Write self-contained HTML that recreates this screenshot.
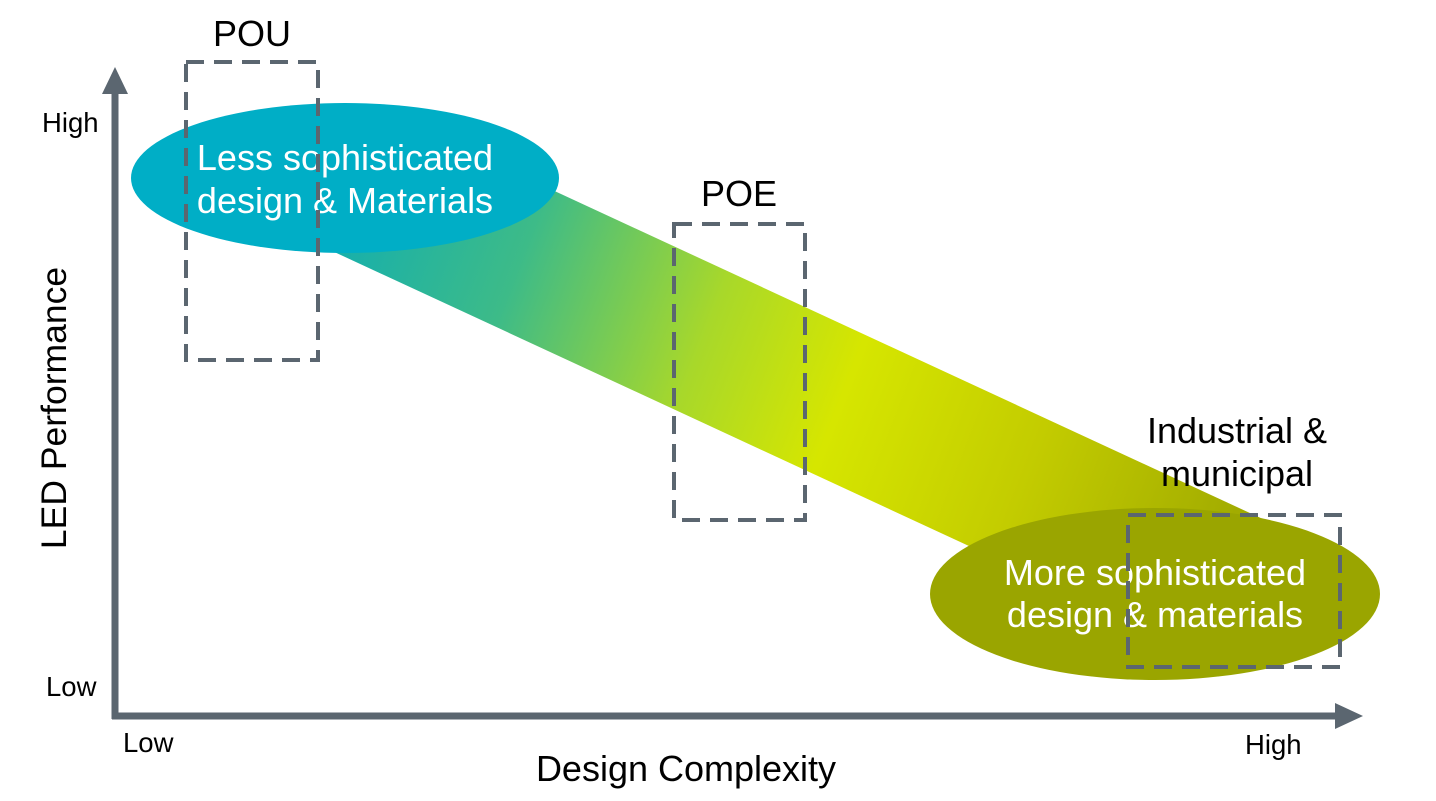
<!DOCTYPE html>
<html><head><meta charset="utf-8"><style>
html,body{margin:0;padding:0;background:#fff;}
svg{display:block;font-family:"Liberation Sans",Arial,sans-serif;}
</style></head><body>
<svg width="1436" height="801" viewBox="0 0 1436 801" xmlns="http://www.w3.org/2000/svg">
<defs>
<linearGradient id="g" x1="330" y1="200" x2="1260" y2="560" gradientUnits="userSpaceOnUse">
<stop offset="0" stop-color="#12aeb0"/>
<stop offset="0.2" stop-color="#3dbb88"/>
<stop offset="0.4" stop-color="#a8d82a"/>
<stop offset="0.55" stop-color="#d6e600"/>
<stop offset="0.75" stop-color="#c3cc00"/>
<stop offset="1" stop-color="#9ca600"/>
</linearGradient>
</defs>
<polygon points="520,175 1265,520 1010,565 330,250" fill="url(#g)"/>
<ellipse cx="345" cy="178" rx="214" ry="75" fill="#00aec6"/>
<ellipse cx="1155" cy="594" rx="225" ry="86" fill="#9aa500"/>
<text x="345" y="170" font-size="36" fill="#fff" text-anchor="middle">Less sophisticated</text>
<text x="345" y="213" font-size="36" fill="#fff" text-anchor="middle">design &amp; Materials</text>
<text x="1155" y="585" font-size="36" fill="#fff" text-anchor="middle">More sophisticated</text>
<text x="1155" y="627" font-size="36" fill="#fff" text-anchor="middle">design &amp; materials</text>
<g fill="none" stroke="#5b6670" stroke-width="4" stroke-dasharray="18 10">
<rect x="186" y="62" width="132" height="298"/>
<rect x="674" y="224" width="131" height="296"/>
<rect x="1128" y="515" width="212" height="152"/>
</g>
<g stroke="#5b6670" stroke-width="7" fill="#5b6670">
<line x1="115" y1="90" x2="115" y2="719"/>
<line x1="112" y1="716" x2="1340" y2="716"/>
</g>
<polygon points="115,67 102,94 128,94" fill="#5b6670"/>
<polygon points="1363,716 1335,703 1335,729" fill="#5b6670"/>
<g fill="#000">
<text x="252" y="46" font-size="36" text-anchor="middle">POU</text>
<text x="739" y="206" font-size="36" text-anchor="middle">POE</text>
<text x="1237" y="443" font-size="36" text-anchor="middle">Industrial &amp;</text>
<text x="1237" y="486" font-size="36" text-anchor="middle">municipal</text>
<text x="42" y="132" font-size="27.5">High</text>
<text x="46" y="696" font-size="27.5">Low</text>
<text x="123" y="752" font-size="27.5">Low</text>
<text x="1245" y="754" font-size="27.5">High</text>
<text x="686" y="781" font-size="36" text-anchor="middle">Design Complexity</text>
<text transform="translate(66,408) rotate(-90)" font-size="35.5" text-anchor="middle">LED Performance</text>
</g>
</svg>
</body></html>
